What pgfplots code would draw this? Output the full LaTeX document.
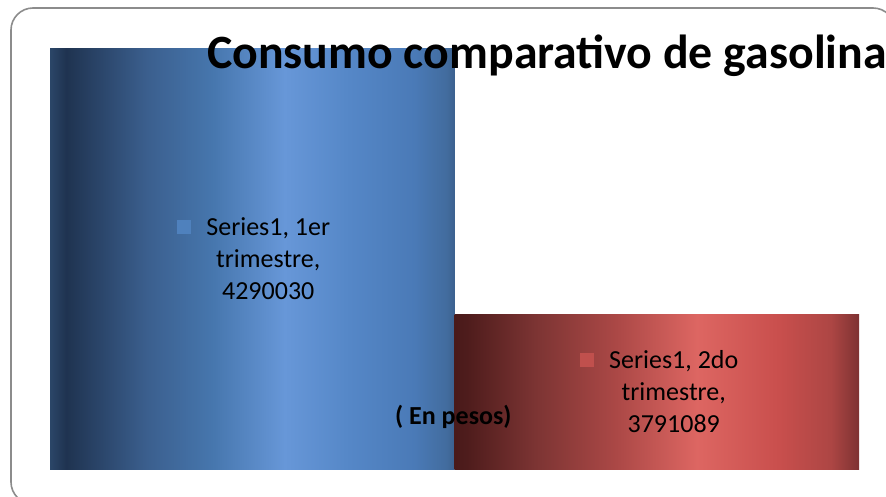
\documentclass[border=0pt]{standalone}
\usepackage{pgfplots}
\pgfplotsset{compat=1.18}
\usepackage{fontspec}
\setmainfont{Carlito}
\usepackage{xcolor}

\definecolor{keyblue}{HTML}{4F81BD}
\definecolor{keyred}{HTML}{C0504D}
\definecolor{frame}{HTML}{8C8C8C}
\definecolor{base}{HTML}{9A9A9A}

% horizontal gradients, useful part between 25bp and 75bp
\pgfdeclarehorizontalshading{barblue}{100bp}{%
  color(0bp)=(rgb,255:red,43;green,70;blue,104);
  color(25bp)=(rgb,255:red,43;green,70;blue,104);
  color(27bp)=(rgb,255:red,31;green,51;blue,80);
  color(37bp)=(rgb,255:red,59;green,95;blue,142);
  color(45bp)=(rgb,255:red,70;green,118;blue,173);
  color(54bp)=(rgb,255:red,103;green,151;blue,216);
  color(62bp)=(rgb,255:red,85;green,135;blue,199);
  color(70bp)=(rgb,255:red,74;green,122;blue,183);
  color(74bp)=(rgb,255:red,66;green,108;blue,158);
  color(75bp)=(rgb,255:red,60;green,97;blue,143);
  color(100bp)=(rgb,255:red,60;green,97;blue,143)}
\pgfdeclarehorizontalshading{barred}{100bp}{%
  color(0bp)=(rgb,255:red,74;green,26;blue,26);
  color(25bp)=(rgb,255:red,74;green,26;blue,26);
  color(26.5bp)=(rgb,255:red,78;green,28;blue,28);
  color(35bp)=(rgb,255:red,124;green,52;blue,51);
  color(45bp)=(rgb,255:red,171;green,72;blue,70);
  color(55bp)=(rgb,255:red,221;green,102;blue,98);
  color(65bp)=(rgb,255:red,201;green,79;blue,77);
  color(71.5bp)=(rgb,255:red,173;green,70;blue,68);
  color(75bp)=(rgb,255:red,126;green,50;blue,50);
  color(100bp)=(rgb,255:red,126;green,50;blue,50)}

\begin{document}
\begin{tikzpicture}[x=1pt,y=1pt]
\clip (0,0) rectangle (886,496);
\draw[frame, line width=1.6pt, rounded corners=22pt] (11,488) rectangle (895,-8);

\begin{axis}[
    at={(50pt,27pt)}, anchor=south west,
    scale only axis,
    width=809pt, height=420.3pt,
    ybar, bar width=1, bar shift=0pt,
    xmin=-0.5, xmax=1.5,
    ymin=3500000, ymax=4290030,
    axis x line*=bottom, axis y line=none,
    x axis line style={base, line width=2pt, -},
    xtick=\empty, ytick=\empty,
]
\addplot[draw=none, shading=barblue] coordinates {(0,4290030)};
\addplot[draw=none, shading=barred] coordinates {(1,3791089)};

% data labels, centred in each bar
\node[align=center, font=\fontsize{26}{32}\selectfont, xshift=16pt]
  at (axis cs:0,3895015)
  {\llap{\textcolor{keyblue}{\rule[2pt]{14pt}{14pt}}\hspace{15pt}}Series1, 1er\\trimestre,\\4290030};
\node[align=center, font=\fontsize{26}{32}\selectfont, xshift=17pt]
  at (axis cs:1,3645544)
  {\llap{\textcolor{keyred}{\rule[2pt]{14pt}{14pt}}\hspace{15pt}}Series1, 2do\\trimestre,\\3791089};
\end{axis}

\node[anchor=base west, inner sep=0pt, font=\fontsize{47.8}{54}\selectfont\bfseries]
  at (207,427) {Consumo comparativo de gasolina};
\node[anchor=base west, inner sep=0pt, font=\fontsize{26}{30}\selectfont\bfseries]
  at (395,72) {( En pesos)};
\end{tikzpicture}
\end{document}
